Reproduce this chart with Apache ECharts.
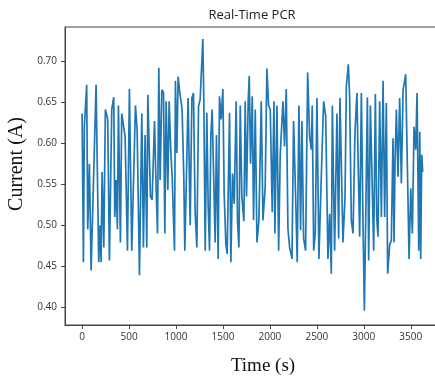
<!DOCTYPE html>
<html>
<head>
<meta charset="utf-8">
<script src="https://cdn.jsdelivr.net/npm/echarts@6/dist/echarts.min.js"></script>
<style>html,body{margin:0;padding:0;background:#fff;}#c{width:435px;height:377px;}</style>
</head>
<body>
<div id="c"></div>
<script>
const titleText = 'Real-Time PCR';
const xName = 'Time (s)';
const yName = 'Current (A)';
const xTicks = [0, 500, 1000, 1500, 2000, 2500, 3000, 3500];
const yTicks = [0.40, 0.45, 0.50, 0.55, 0.60, 0.65, 0.70];
const times = [0,14,24,49,60,78,96,149,177,191,202,213,231,248,273,291,302,316,337,348,362,376,387,408,422,440,458,483,504,529,568,586,611,636,653,671,689,700,710,728,746,771,788,803,817,831,849,867,881,895,913,927,945,959,984,994,1009,1023,1037,1055,1065,1083,1094,1129,1151,1169,1186,1204,1222,1240,1257,1275,1286,1296,1311,1328,1343,1357,1371,1385,1403,1417,1431,1449,1463,1481,1499,1513,1531,1545,1570,1584,1602,1620,1641,1655,1670,1684,1701,1723,1737,1751,1769,1780,1794,1812,1826,1844,1862,1883,1908,1926,1950,1968,1986,2004,2025,2043,2053,2075,2093,2110,2125,2139,2156,2174,2192,2210,2220,2235,2252,2274,2291,2309,2327,2341,2359,2380,2402,2423,2441,2451,2466,2483,2501,2522,2544,2572,2594,2618,2636,2654,2665,2689,2714,2732,2746,2764,2778,2800,2814,2824,2835,2849,2867,2885,2906,2927,2938,2956,2974,2991,3006,3020,3038,3052,3070,3087,3105,3123,3137,3151,3169,3187,3205,3222,3240,3254,3276,3293,3311,3322,3332,3347,3364,3382,3400,3418,3435,3446,3460,3482,3500,3517,3535,3553,3567,3585,3596,3606,3617,3627];
const currents = [0.636,0.455,0.620,0.671,0.495,0.575,0.445,0.671,0.455,0.500,0.455,0.565,0.473,0.641,0.629,0.457,0.455,0.641,0.656,0.510,0.555,0.495,0.646,0.479,0.636,0.636,0.608,0.469,0.666,0.469,0.646,0.616,0.439,0.636,0.473,0.610,0.473,0.659,0.661,0.535,0.531,0.627,0.547,0.490,0.692,0.555,0.665,0.662,0.490,0.651,0.543,0.651,0.590,0.559,0.469,0.676,0.588,0.681,0.665,0.663,0.641,0.559,0.469,0.655,0.500,0.655,0.661,0.516,0.473,0.645,0.653,0.655,0.727,0.653,0.469,0.637,0.522,0.469,0.608,0.641,0.639,0.479,0.610,0.459,0.657,0.629,0.666,0.539,0.477,0.465,0.637,0.455,0.563,0.526,0.651,0.506,0.473,0.646,0.535,0.505,0.651,0.535,0.651,0.682,0.575,0.657,0.506,0.641,0.479,0.506,0.651,0.506,0.547,0.691,0.646,0.641,0.516,0.651,0.490,0.646,0.469,0.586,0.588,0.651,0.596,0.666,0.496,0.473,0.475,0.459,0.627,0.535,0.455,0.646,0.494,0.627,0.484,0.469,0.686,0.608,0.592,0.646,0.469,0.490,0.655,0.459,0.547,0.651,0.633,0.459,0.514,0.441,0.646,0.469,0.636,0.484,0.655,0.655,0.479,0.535,0.669,0.671,0.696,0.657,0.506,0.490,0.614,0.661,0.586,0.486,0.661,0.506,0.396,0.506,0.656,0.457,0.646,0.561,0.469,0.660,0.510,0.486,0.651,0.510,0.676,0.510,0.649,0.441,0.477,0.481,0.606,0.479,0.575,0.641,0.559,0.655,0.551,0.665,0.676,0.684,0.686,0.459,0.545,0.490,0.620,0.592,0.661,0.469,0.614,0.459,0.586,0.565];

const data = times.map((t, i) => [t, currents[i]]);
const chart = echarts.init(document.getElementById('c'), null, {renderer: 'canvas'});
const tickFont = {fontFamily: 'Open Sans', fontSize: 10, color: '#333'};
chart.setOption({
  animation: false,
  backgroundColor: '#fff',
  graphic: [
    {type: 'text', x: 252, y: 15, style: {text: titleText, font: '13px "Open Sans"', fill: '#222', textAlign: 'center', textVerticalAlign: 'middle'}},
    {type: 'text', x: 263, y: 366, style: {text: xName, font: '19px "Liberation Serif"', fill: '#111', textAlign: 'center', textVerticalAlign: 'middle'}},
    {type: 'text', x: 17, y: 164, rotation: Math.PI / 2, style: {text: yName, font: '20px "Liberation Serif"', fill: '#111', textAlign: 'center', textVerticalAlign: 'middle'}}
  ],
  grid: {left: 65, top: 27, width: 376, height: 298, show: true, borderColor: '#444', borderWidth: 1, backgroundColor: 'transparent', outerBoundsMode: 'none', containLabel: false},
  xAxis: {
    type: 'value', min: -182, max: 3822,
    axisLine: {show: true, onZero: false, lineStyle: {color: '#444', width: 1}},
    axisTick: {show: true, inside: false, length: 4, customValues: xTicks, lineStyle: {color: '#444'}},
    axisLabel: Object.assign({customValues: xTicks, margin: 7, formatter: v => String(v)}, tickFont),
    splitLine: {show: false}
  },
  yAxis: {
    type: 'value', min: 0.3785, max: 0.7415,
    axisLine: {show: true, onZero: false, lineStyle: {color: '#444', width: 1}},
    axisTick: {show: true, inside: false, length: 4, customValues: yTicks, lineStyle: {color: '#444'}},
    axisLabel: Object.assign({customValues: yTicks, margin: 8, formatter: v => v.toFixed(2)}, tickFont),
    splitLine: {show: false}
  },
  series: [{
    type: 'line', data: data, showSymbol: false, symbol: 'none',
    lineStyle: {color: '#1f77b4', width: 1.7}, clip: false
  }]
});
</script>
</body>
</html>
